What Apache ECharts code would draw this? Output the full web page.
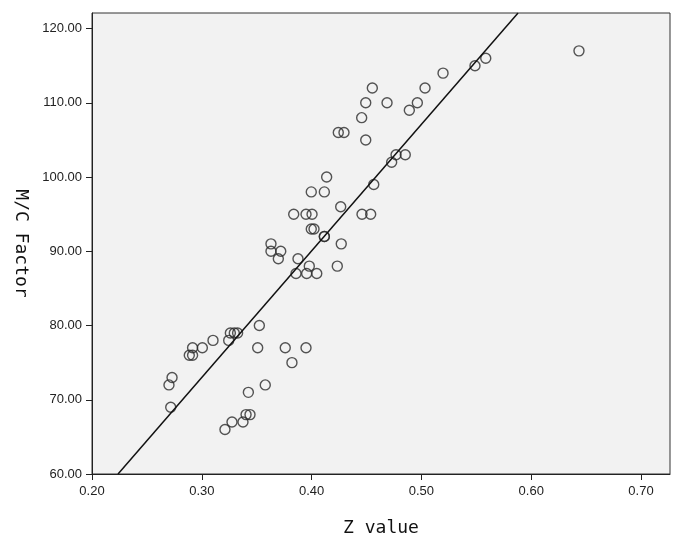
<!DOCTYPE html>
<html>
<head>
<meta charset="utf-8">
<script src="https://cdn.jsdelivr.net/npm/echarts@6/dist/echarts.min.js"></script>
<style>
  html, body { margin: 0; padding: 0; background: #fff; }
  #chart { width: 675px; height: 542px; }
</style>
</head>
<body>
<div id="chart"></div>
<script>
// Z value (x) vs M/C Factor (y)
var zValues = [
  0.6435, 0.5586, 0.5488, 0.5197, 0.4553, 0.5033, 0.4493, 0.4687, 0.4963, 0.4890,
  0.4456, 0.4243, 0.4295, 0.4493, 0.4769, 0.4853, 0.4729, 0.4137, 0.4566, 0.3997,
  0.4116, 0.4265, 0.3837, 0.3949, 0.4004, 0.4459, 0.4538, 0.3997, 0.4022, 0.4116,
  0.4116, 0.4270, 0.3630, 0.3630, 0.3719, 0.3697, 0.3876, 0.3979, 0.4234, 0.3858,
  0.3955, 0.4047, 0.3524, 0.3260, 0.3296, 0.3326, 0.3245, 0.3102, 0.3005, 0.2916,
  0.3509, 0.3760, 0.3949, 0.2886, 0.2916, 0.3821, 0.2729, 0.2701, 0.3578, 0.3424,
  0.2717, 0.3403, 0.3439, 0.3275, 0.3375, 0.3211
]
var mcFactor = [
  117, 116, 115, 114, 112, 112, 110, 110, 110, 109,
  108, 106, 106, 105, 103, 103, 102, 100, 99, 98,
  98, 96, 95, 95, 95, 95, 95, 93, 93, 92,
  92, 91, 91, 90, 90, 89, 89, 88, 88, 87,
  87, 87, 80, 79, 79, 79, 78, 78, 77, 77,
  77, 77, 77, 76, 76, 75, 73, 72, 72, 71,
  69, 68, 68, 67, 67, 66
]
// fit line end points (as drawn)
var fitLine = [[0.2237, 60], [0.588, 122.1]]
var xTicks = [0.2, 0.3, 0.4, 0.5, 0.6, 0.7]
var yTicks = [60, 70, 80, 90, 100, 110, 120]

var points = []
for (var i = 0; i < zValues.length; i++) {
  points.push([zValues[i], mcFactor[i]])
}

var myChart = echarts.init(document.getElementById('chart'), null, { renderer: 'canvas' })
var labelFont = 'Liberation Sans, Arial, sans-serif'
var titleFont = 'DejaVu Sans Mono, monospace'

var option = {
  backgroundColor: '#fff',
  animation: false,
  grid: {
    left: 92,
    right: 5,
    top: 13,
    bottom: 68,
    show: true,
    backgroundColor: '#f2f2f2',
    borderColor: '#333',
    borderWidth: 1
  },
  xAxis: {
    type: 'value',
    min: 0.2,
    max: 0.7264,
    name: 'Z value',
    nameLocation: 'middle',
    nameGap: 45,
    nameTextStyle: { fontFamily: titleFont, fontSize: 18, color: '#111' },
    axisLine: { show: true, onZero: false, lineStyle: { color: '#222', width: 1 } },
    axisTick: { show: true, length: 6, customValues: xTicks, lineStyle: { color: '#222' } },
    splitLine: { show: false },
    axisLabel: {
      customValues: xTicks,
      margin: 11,
      fontFamily: labelFont,
      fontSize: 13,
      color: '#222',
      formatter: function (v) { return v.toFixed(2) }
    }
  },
  yAxis: {
    type: 'value',
    min: 60,
    max: 122.1,
    name: 'M/C Factor',
    nameLocation: 'middle',
    nameGap: 62,
    nameRotate: -90,
    nameTextStyle: { fontFamily: titleFont, fontSize: 18, color: '#111' },
    axisLine: { show: true, onZero: false, lineStyle: { color: '#222', width: 1 } },
    axisTick: { show: true, length: 6, customValues: yTicks, lineStyle: { color: '#222' } },
    splitLine: { show: false },
    axisLabel: {
      customValues: yTicks,
      margin: 10,
      fontFamily: labelFont,
      fontSize: 13,
      color: '#222',
      formatter: function (v) { return v.toFixed(2) }
    }
  },
  series: [
    {
      type: 'scatter',
      data: points,
      symbol: 'circle',
      symbolSize: 10,
      itemStyle: {
        color: 'rgba(0,0,0,0)',
        borderColor: '#2a2a2a',
        borderWidth: 1.4
      }
    },
    {
      type: 'line',
      data: fitLine,
      symbol: 'none',
      clip: true,
      lineStyle: { color: '#111', width: 1.5 }
    }
  ]
}
myChart.setOption(option)
</script>
</body>
</html>
